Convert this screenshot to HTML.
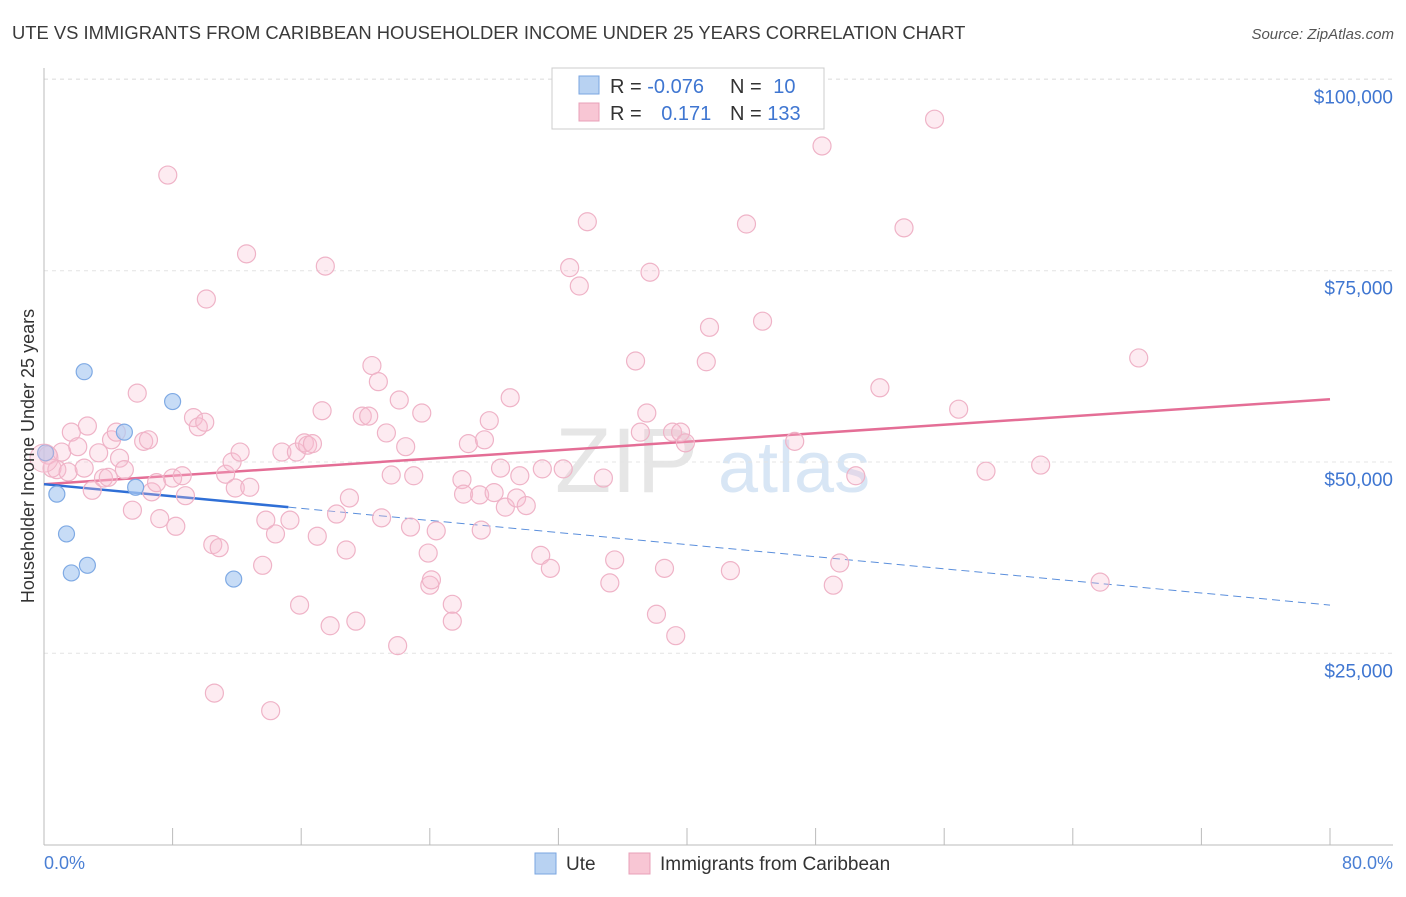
<!DOCTYPE html>
<html><head><meta charset="utf-8"><style>
body{margin:0;background:#fff;font-family:"Liberation Sans",sans-serif;}
svg text{font-family:"Liberation Sans",sans-serif;}
</style></head><body>
<svg id="chart" width="1406" height="892">
<text x="12" y="39" font-size="18.4" fill="#3a3a3a">UTE VS IMMIGRANTS FROM CARIBBEAN HOUSEHOLDER INCOME UNDER 25 YEARS CORRELATION CHART</text>
<text x="1394" y="39" font-size="15" fill="#555" font-style="italic" text-anchor="end">Source: ZipAtlas.com</text>
<text x="555" y="492" font-size="92" fill="#e6e6e6" font-family="Liberation Serif">ZIP</text>
<text x="718" y="492" font-size="72" fill="#d8e6f5">atlas</text>
<g id="grid"></g><g id="axes"></g><g id="lines"></g><g id="pts"></g>
<text transform="translate(34,456) rotate(-90)" font-size="18" fill="#333" text-anchor="middle">Householder Income Under 25 years</text>
<text x="44" y="869" font-size="18" fill="#4a7fd4">0.0%</text>
<text x="1393" y="869" font-size="18" fill="#4a7fd4" text-anchor="end">80.0%</text>
<g>
<rect x="552" y="68" width="272" height="61" fill="#fff" stroke="#ccc"/>
<rect x="579" y="76" width="20" height="18" fill="#b8d2f2" stroke="#7aa6e0"/>
<rect x="579" y="103" width="20" height="18" fill="#f8c6d4" stroke="#e8a0b8"/>
<text x="610" y="93" font-size="20" fill="#333">R = <tspan fill="#3f76d1">-0.076</tspan></text>
<text x="730" y="93" font-size="20" fill="#333">N = <tspan fill="#3f76d1" dx="6">10</tspan></text>
<text x="610" y="120" font-size="20" fill="#333">R = <tspan fill="#3f76d1" dx="14">0.171</tspan></text>
<text x="730" y="120" font-size="20" fill="#333">N = <tspan fill="#3f76d1">133</tspan></text>
</g>
<g>
<rect x="535" y="853" width="21" height="21" fill="#b8d2f2" stroke="#7aa6e0"/>
<text x="566" y="870" font-size="19" fill="#333">Ute</text>
<rect x="629" y="853" width="21" height="21" fill="#f8c6d4" stroke="#e8a0b8"/>
<text x="660" y="870" font-size="19" fill="#333">Immigrants from Caribbean</text>
</g>
</svg>
<script>
const yTicks=[25000,50000,75000,100000];
const yTickLabels=["$25,000","$50,000","$75,000","$100,000"];
const xTicks=[0,8,16,24,32,40,48,56,64,72,80];
const pinkX=[0.25,0.5,0.8,1.1,1.5,1.7,2.1,2.5,2.7,3.0,3.4,3.7,4.0,4.2,4.5,4.7,5.0,5.5,5.8,6.2,6.5,6.7,7.0,7.2,7.7,8.0,8.2,8.6,8.8,9.3,9.6,10.0,10.1,10.5,10.6,10.9,11.3,11.7,11.9,12.2,12.6,12.8,13.6,13.8,14.1,14.4,14.8,15.3,15.7,15.9,16.2,16.4,16.7,17.0,17.3,17.5,17.8,18.2,18.8,19.0,19.4,19.8,20.2,20.4,20.8,21.0,21.3,21.6,22.0,22.1,22.5,22.8,23.0,23.5,23.9,24.0,24.1,24.4,25.4,25.4,26.0,26.1,26.4,27.1,27.2,27.4,27.7,28.0,28.4,28.7,29.0,29.4,29.6,30.0,30.9,31.0,31.5,32.3,32.7,33.3,33.8,34.8,35.2,35.5,36.8,37.1,37.5,37.7,38.1,38.6,39.1,39.3,39.6,39.9,41.2,41.4,42.7,43.7,44.7,46.7,48.4,49.1,49.5,50.5,52.0,53.5,55.4,56.9,58.6,62.0,65.7,68.1];
const pinkY=[50.9,49.2,49.0,51.3,48.7,53.9,52.0,49.2,54.7,46.3,51.2,47.9,48.0,52.9,53.9,50.5,49.0,43.7,59.0,52.7,52.9,46.1,47.3,42.6,87.5,47.9,41.6,48.2,45.6,55.8,54.6,55.2,71.3,39.2,19.8,38.8,48.4,50.0,46.6,51.3,77.2,46.7,36.5,42.4,17.5,40.6,51.3,42.4,51.3,31.3,52.5,52.2,52.4,40.3,56.7,75.6,28.6,43.2,38.5,45.3,29.2,56.0,56.0,62.6,60.5,42.7,53.8,48.3,26.0,58.1,52.0,41.5,48.2,56.4,38.1,33.9,34.6,41.0,31.4,29.2,47.7,45.8,52.4,45.7,41.1,52.9,55.4,46.0,49.2,44.1,58.4,45.3,48.2,44.3,37.8,49.1,36.1,49.1,75.4,73.0,81.4,47.9,34.2,37.2,63.2,53.9,56.4,74.8,30.1,36.1,53.9,27.3,53.9,52.5,63.1,67.6,35.8,81.1,68.4,52.7,91.3,33.9,36.8,48.2,59.7,80.6,94.8,56.9,48.8,49.6,34.3,63.6];
const uteX=[0.1,0.8,1.4,1.7,2.7,2.5,5.0,5.7,8.0,11.8];
const uteY=[51.2,45.8,40.6,35.5,36.5,61.8,53.9,46.7,57.9,34.7];
const pinkTrend=[47.1,58.2];
const uteTrend=[47.1,31.3];
const uteSolidEnd=15.2;
const NS="http://www.w3.org/2000/svg";
const X=v=>44+v/80*1286;
const Y=v=>844.6-v/25000*191.3;
const Yk=v=>Y(v*1000);
function mk(t,a,p){const e=document.createElementNS(NS,t);for(const k in a)e.setAttribute(k,a[k]);document.getElementById(p).appendChild(e);return e;}
yTicks.forEach((t,i)=>{
 const g=mk('line',{x1:44,x2:1393,y1:Y(t),y2:Y(t),stroke:'#e4e4e4','stroke-dasharray':'4,4'},'grid');
 
 
 const l=mk('text',{x:1393,y:Y(t)+24,'font-size':19,fill:'#3f76d1','text-anchor':'end'},'grid');
 l.textContent=yTickLabels[i];
 
 
});
const topLine=mk('line',{x1:44,x2:1393,y1:79,y2:79,stroke:'#e4e4e4','stroke-dasharray':'4,4'},'grid');


const ya=mk('line',{x1:44,x2:44,y1:68,y2:845,stroke:'#bbb'},'axes');


const xa=mk('line',{x1:44,x2:1393,y1:845,y2:845,stroke:'#bbb'},'axes');


xTicks.forEach(t=>{
 const e=mk('line',{x1:X(t),x2:X(t),y1:828,y2:845,stroke:'#bbb'},'axes');
 
 
});
pinkX.forEach((x,i)=>{
 const c=mk('circle',{cx:X(x),cy:Yk(pinkY[i]),r:9,fill:'rgba(248,190,210,0.3)',stroke:'#efb3c7','stroke-width':1.2},'pts');
 
 
});
uteX.forEach((x,i)=>{
 const c=mk('circle',{cx:X(x),cy:Yk(uteY[i]),r:8,fill:'rgba(175,205,242,0.7)',stroke:'#7faae4','stroke-width':1.2},'pts');
 
 
});
const big=mk('circle',{cx:X(0),cy:Yk(50.5),r:14,fill:'rgba(248,190,210,0.3)',stroke:'#efb3c7'},'pts');


const pt=mk('line',{x1:X(0),y1:Yk(pinkTrend[0]),x2:X(80),y2:Yk(pinkTrend[1]),stroke:'#e46e96','stroke-width':2.5},'lines');


const slope=(uteTrend[1]-uteTrend[0])/80;
const ue=uteTrend[0]+slope*uteSolidEnd;
const us=mk('line',{x1:X(0),y1:Yk(uteTrend[0]),x2:X(uteSolidEnd),y2:Yk(ue),stroke:'#2f6fd6','stroke-width':2.5},'lines');


const ud=mk('line',{x1:X(uteSolidEnd),y1:Yk(ue),x2:X(80),y2:Yk(uteTrend[1]),stroke:'#5b8fdc','stroke-width':1,'stroke-dasharray':'8,5'},'lines');


</script>
</body></html>
